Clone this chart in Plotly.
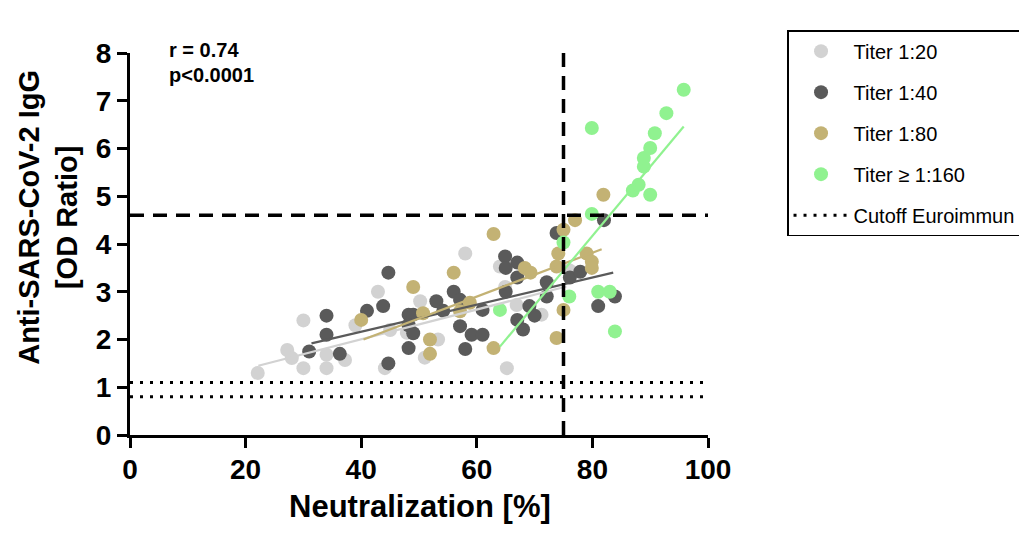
import plotly.graph_objects as go

# ---------------- data ----------------
t20_x = [22.1, 27.2, 28.0, 30.0, 30.0, 34.0, 34.0, 37.2, 39.0, 42.9, 44.1, 45.0, 47.9,
         50.2, 51.0, 53.3, 58.0, 64.0, 64.9, 65.2, 66.9, 71.2, 76.0]
t20_y = [1.30, 1.78, 1.61, 2.40, 1.40, 1.40, 1.68, 1.57, 2.30, 3.00, 1.40, 2.20, 2.14,
         2.80, 1.62, 2.00, 3.80, 3.53, 3.10, 1.40, 2.72, 2.52, 3.45]

t40_x = [31.0, 34.0, 34.0, 36.3, 41.0, 43.8, 44.7, 44.7, 48.2, 49.0, 48.2, 49.0, 48.2,
         53.0, 54.2, 56.0, 57.1, 57.1, 59.1, 61.0, 58.0, 61.0, 64.9, 67.0, 65.0, 67.0,
         65.0, 69.1, 67.0, 68.0, 70.0, 72.1, 72.1, 73.8, 76.1, 77.9, 81.0, 83.9, 82.0]
t40_y = [1.75, 2.50, 2.10, 1.70, 2.60, 2.70, 3.40, 1.50, 2.52, 2.52, 2.30, 2.13, 1.82,
         2.80, 2.60, 3.00, 2.83, 2.28, 2.10, 2.10, 1.80, 2.62, 3.74, 3.61, 3.50, 3.30,
         3.00, 2.70, 2.41, 2.21, 2.50, 3.20, 2.90, 4.23, 3.30, 3.42, 2.70, 2.90, 4.50]

t80_x = [40.0, 49.0, 50.7, 51.9, 51.9, 56.0, 57.1, 58.8, 62.9, 62.9, 68.3, 69.3, 73.8,
         74.1, 75.0, 77.0, 79.0, 79.9, 79.9, 75.0, 73.8, 81.9]
t80_y = [2.41, 3.10, 2.55, 2.00, 1.70, 3.40, 2.59, 2.77, 4.21, 1.82, 3.50, 3.40, 3.53,
         3.80, 4.30, 4.50, 3.80, 3.63, 3.50, 2.62, 2.03, 5.03]

t160_x = [64.0, 75.0, 76.0, 79.9, 79.9, 81.0, 83.0, 83.9, 87.0, 88.0, 88.9, 88.9, 90.0,
          90.0, 90.8, 92.8, 95.8]
t160_y = [2.62, 4.03, 2.90, 4.63, 6.43, 3.00, 3.00, 2.17, 5.12, 5.24, 5.62, 5.80, 6.01,
          5.03, 6.32, 6.74, 7.23]

# regression lines (end points)
fit20_x, fit20_y = [22.2, 75.5], [1.45, 3.11]
fit40_x, fit40_y = [31.4, 83.6], [1.92, 3.40]
fit80_x, fit80_y = [40.4, 81.6], [2.00, 3.89]
fit160_x, fit160_y = [64.0, 95.8], [1.85, 6.46]

cutoff_values = [1.1, 0.8]
threshold_y = 4.6
threshold_x = 75

series_names = ["Titer 1:20", "Titer 1:40", "Titer 1:80", "Titer ≥ 1:160"]
colors = ["#d2d2d2", "#5a5a5a", "#c3b274", "#90f290"]

FONT = "Liberation Sans, Arial, sans-serif"

fig = go.Figure()

pts = [(t20_x, t20_y), (t40_x, t40_y), (t80_x, t80_y), (t160_x, t160_y)]
fits = [(fit20_x, fit20_y), (fit40_x, fit40_y), (fit80_x, fit80_y), (fit160_x, fit160_y)]

for i, ((xs, ys), name, c) in enumerate(zip(pts, series_names, colors)):
    fig.add_trace(go.Scatter(x=xs, y=ys, mode="markers", name=name,
                             legendgroup=f"g{i}",
                             marker=dict(color=c, size=14, line=dict(width=0))))

for i, ((fx, fy), c) in enumerate(zip(fits, colors)):
    fig.add_trace(go.Scatter(x=fx, y=fy, mode="lines", showlegend=False,
                             line=dict(color=c, width=2.2), hoverinfo="skip"))

for j, cv in enumerate(cutoff_values):
    fig.add_trace(go.Scatter(x=[0, 100], y=[cv, cv], mode="lines",
                             name="Cutoff Euroimmun", legendgroup="cut",
                             showlegend=(j == 0),
                             line=dict(color="black", width=3, dash="3px,7px")))

# threshold dashed lines
fig.add_trace(go.Scatter(x=[0, 100], y=[threshold_y, threshold_y], mode="lines",
                         showlegend=False,
                         line=dict(color="black", width=3.5, dash="14px,9px")))
fig.add_trace(go.Scatter(x=[threshold_x, threshold_x], y=[0, 8], mode="lines",
                         showlegend=False,
                         line=dict(color="black", width=3.5, dash="14px,9px")))

fig.add_annotation(x=0.064, y=1.008, xref="paper", yref="paper", text="<b>r = 0.74</b>",
                   showarrow=False, xanchor="left", yanchor="middle",
                   font=dict(size=20, color="black", family=FONT))
fig.add_annotation(x=0.064, y=0.942, xref="paper", yref="paper", text="<b>p<0.0001</b>",
                   showarrow=False, xanchor="left", yanchor="middle",
                   font=dict(size=20, color="black", family=FONT))

# axis titles
fig.add_annotation(x=0.502, y=-0.186, xref="paper", yref="paper",
                   text="<b>Neutralization [%]</b>", showarrow=False,
                   xanchor="center", yanchor="middle",
                   font=dict(size=31, color="black", family=FONT))
fig.add_annotation(x=-0.142, y=0.571, xref="paper", yref="paper",
                   text="<b>Anti-SARS-CoV-2 IgG<br>[OD Ratio]</b>", showarrow=False,
                   textangle=-90, xanchor="center", yanchor="middle",
                   font=dict(size=29, color="black", family=FONT))

axis_common = dict(showline=True, linewidth=3, linecolor="black", ticks="outside",
                   ticklen=10, tickwidth=3, tickcolor="black", showgrid=False,
                   zeroline=False,
                   tickfont=dict(size=28, color="black", family=FONT, weight="bold"))

fig.update_layout(
    width=1019, height=527,
    margin=dict(l=122, r=319, t=45, b=100, autoexpand=False),
    paper_bgcolor="white", plot_bgcolor="white",
    font=dict(family=FONT, color="black"),
    xaxis=dict(range=[0, 100], tickvals=[0, 20, 40, 60, 80, 100],
               ticklabelstandoff=-3, **axis_common),
    yaxis=dict(range=[0, 8], tickvals=list(range(0, 9)), **axis_common),
    legend=dict(xref="container", yref="container", x=0.7645, y=0.958,
                xanchor="left", yanchor="top",
                bordercolor="black", borderwidth=1.5, bgcolor="white",
                font=dict(size=20, family=FONT, color="black"),
                tracegroupgap=12, itemwidth=55),
    showlegend=True,
)

fig.write_html("out.html")
